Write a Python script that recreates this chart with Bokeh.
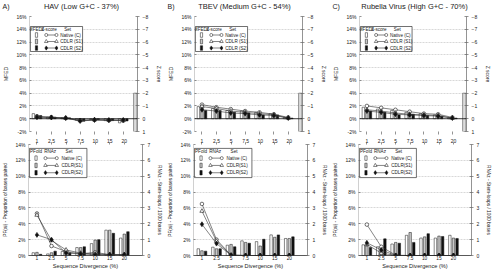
from bokeh.plotting import figure
from bokeh.layouts import row, column
from bokeh.models import (Range1d, LinearAxis, FixedTicker, Span, Grid,
                          PrintfTickFormatter)
from bokeh.embed import file_html
from bokeh.resources import INLINE
from bokeh.core.properties import value

# ---------------------------------------------------------------- data
divergence = ["1", "2.5", "5", "7.5", "10", "15", "20"]
set_names_top = ["Native (C)", "CDLR (S1)", "CDLR (S2)"]
set_names_bottom = ["Native (C)", "CDLR(S1)", "CDLR(S2)"]
panel_letters = ["A)", "B)", "C)"]
panel_titles = ["HAV (Low G+C - 37%)", "TBEV (Medium G+C - 54%)",
                "Rubella Virus (High G+C - 70%)"]
x_title = "Sequence Divergence (%)"

# MFED (%) and Z-score per set
hav_mfed_c = [0.8, 0.25, 0.15, -0.25, -0.15, -0.3, -0.65]
hav_mfed_s1 = [0.6, 0.3, 0.1, -0.35, -0.2, -0.35, -0.5]
hav_mfed_s2 = [0.5, 0.25, 0.15, -0.4, -0.15, -0.3, -0.35]
hav_z_c = [-0.18, -0.12, -0.05, 0.12, 0.08, 0.12, 0.15]
hav_z_s1 = [-0.15, -0.1, -0.05, 0.15, 0.08, 0.1, 0.12]
hav_z_s2 = [-0.12, -0.1, -0.05, 0.18, 0.1, 0.12, 0.1]

tbev_mfed_c = [1.9, 1.6, 1.3, 1.2, 1.0, 0.8, 0.2]
tbev_mfed_s1 = [1.7, 1.5, 1.2, 1.0, 0.8, 0.7, 0.15]
tbev_mfed_s2 = [1.3, 1.3, 1.0, 0.9, 0.6, 0.6, 0.1]
tbev_z_c = [-1.1, -0.9, -0.75, -0.6, -0.5, -0.35, -0.1]
tbev_z_s1 = [-0.95, -0.8, -0.6, -0.5, -0.4, -0.3, -0.05]
tbev_z_s2 = [-0.7, -0.6, -0.45, -0.4, -0.3, -0.25, -0.05]

rub_mfed_c = [1.8, 1.5, 1.3, 1.0, 0.8, 0.6, 0.15]
rub_mfed_s1 = [1.5, 1.2, 1.0, 0.8, 0.6, 0.5, 0.1]
rub_mfed_s2 = [1.2, 1.0, 0.6, 0.7, 0.5, 0.4, 0.1]
rub_z_c = [-1.0, -0.85, -0.7, -0.55, -0.4, -0.35, -0.1]
rub_z_s1 = [-0.7, -0.6, -0.45, -0.35, -0.3, -0.25, -0.05]
rub_z_s2 = [-0.6, -0.5, -0.35, -0.3, -0.25, -0.2, -0.05]

# PFold proportion of bases paired (%) and RNAz stem-loops / 1000 bases
hav_pf_c = [0.35, 0.2, 0.5, 1.0, 1.5, 3.2, 2.2]
hav_pf_s1 = [0.4, 0.35, 0.7, 1.0, 1.95, 3.2, 2.7]
hav_pf_s2 = [0.15, 0.55, 0.35, 1.1, 2.0, 2.8, 3.0]
hav_rz_c = [2.65, 0.6, 0.25, 0.1, 0.2, 0.05, 0.05]
hav_rz_s1 = [2.55, 0.95, 0.35, 0.15, 0.1, 0.05, 0.05]
hav_rz_s2 = [1.3, 1.0, 0.15, 0.1, 0.05, 0.05, 0.05]

tbev_pf_c = [0.85, 1.05, 1.3, 1.85, 1.75, 2.6, 2.15]
tbev_pf_s1 = [0.6, 0.85, 1.4, 1.65, 1.2, 2.3, 2.15]
tbev_pf_s2 = [0.55, 0.85, 1.1, 1.55, 2.05, 2.6, 2.35]
tbev_rz_c = [3.25, 1.0, 0.02, 0.0, 0.0, 0.0, 0.0]
tbev_rz_s1 = [2.8, 0.9, 0.02, 0.0, 0.0, 0.0, 0.0]
tbev_rz_s2 = [1.97, 0.75, 0.02, 0.0, 0.0, 0.0, 0.0]

rub_pf_c = [1.35, 1.1, 1.45, 2.55, 2.2, 2.2, 2.55]
rub_pf_s1 = [1.2, 0.7, 1.65, 2.9, 2.35, 2.45, 2.2]
rub_pf_s2 = [1.0, 2.1, 1.55, 1.65, 2.75, 2.4, 2.15]
rub_rz_c = [1.95, 0.55, 0.02, 0.0, 0.0, 0.0, 0.0]
rub_rz_s1 = [0.7, 0.15, 0.0, 0.0, 0.0, 0.0, 0.0]
rub_rz_s2 = [0.8, 0.35, 0.0, 0.0, 0.0, 0.0, 0.0]

# ---------------------------------------------------------------- style
FONT = "Liberation Sans"
TEXT = "#222222"
BAR_FILLS = ["white", "#c8c8c8", "#111111"]
BAR_OFFSETS = [-0.25, 0.0, 0.25]
BAR_W = 0.17
MARKERS = [("circle", "white", 3.6), ("triangle", "white", 4.2), ("diamond", "#111111", 5.0)]
idx = list(range(len(divergence)))
COL_WIDTHS = [165, 165, 164]


def style_axis(ax, label_size="5px", title_size="5px"):
    ax.major_label_text_font = FONT
    ax.major_label_text_font_size = label_size
    ax.major_label_text_color = TEXT
    ax.axis_label_text_font = FONT
    ax.axis_label_text_font_size = title_size
    ax.axis_label_text_font_style = "normal"
    ax.axis_label_text_color = TEXT
    ax.minor_tick_line_color = None
    ax.axis_line_color = "#666666"
    ax.major_tick_line_color = "#666666"
    ax.axis_line_width = 0.7
    ax.major_tick_line_width = 0.7


def base_fig(width, height, borders, xr, yr):
    l, r, t, b = borders
    p = figure(width=width, height=height, output_backend="svg", toolbar_location=None,
               title=None, x_range=Range1d(*xr), y_range=Range1d(*yr),
               min_border_left=l, min_border_right=r, min_border_top=t, min_border_bottom=b,
               x_axis_location=None, y_axis_location=None)
    p.grid.visible = False
    p.outline_line_color = None
    p.background_fill_color = "white"
    p.border_fill_color = "white"
    fw, fh = width - l - r, height - t - b
    p.extra_x_ranges["px"] = Range1d(0, fw)
    p.extra_y_ranges["py"] = Range1d(0, fh)
    return p, fw, fh


def text_strip(width, height, items):
    # plain strip holding the panel letter and panel title
    p = figure(width=width, height=height, output_backend="svg", toolbar_location=None,
               title=None, x_range=Range1d(0, width), y_range=Range1d(0, height),
               min_border=0, x_axis_location=None, y_axis_location=None)
    p.grid.visible = False
    p.outline_line_color = None
    for x, y, txt, size, align in items:
        p.text(x=[x], y=[y], text=[txt], text_font=value(FONT), text_font_size=size,
               text_color=TEXT, text_align=align, text_baseline="middle")
    return p


def draw_bars(p, series):
    for k, vals in enumerate(series):
        xs = [i + BAR_OFFSETS[k] for i in idx]
        p.vbar(x=xs, top=vals, bottom=0, width=BAR_W, fill_color=BAR_FILLS[k],
               line_color="#111111", line_width=0.5)


def draw_lines(p, series, range_name):
    for k, vals in enumerate(series):
        marker, fill, size = MARKERS[k]
        p.line(idx, vals, y_range_name=range_name, line_color="#333333", line_width=0.6)
        p.scatter(idx, vals, y_range_name=range_name, marker=marker, size=size,
                  fill_color=fill, line_color="#111111", line_width=0.6)


def legend(p, box, headers, header_x, rows_y, header_y, bar_x, line_x, label_x, names):
    x0, x1, y0, y1 = box
    p.quad(left=[x0], right=[x1], bottom=[y0], top=[y1], fill_color="white",
           line_color="#111111", line_width=0.6, x_range_name="px", y_range_name="py")
    p.text(x=header_x, y=[header_y] * 3, text=headers, text_font=value(FONT),
           text_font_size="4.6px", text_align="center", text_baseline="middle",
           text_color=TEXT, x_range_name="px", y_range_name="py")
    for k, yy in enumerate(rows_y):
        p.quad(left=[bar_x - 1.2], right=[bar_x + 1.2], bottom=[yy - 2.3], top=[yy + 2.3],
               fill_color=BAR_FILLS[k], line_color="#111111", line_width=0.5,
               x_range_name="px", y_range_name="py")
        p.line([line_x[0], line_x[1]], [yy, yy], line_color="#333333", line_width=0.6,
               x_range_name="px", y_range_name="py")
        marker, fill, size = MARKERS[k]
        p.scatter([line_x[0], line_x[1]], [yy, yy], marker=marker, size=size * 0.85,
                  fill_color=fill, line_color="#111111", line_width=0.5,
                  x_range_name="px", y_range_name="py")
    p.text(x=[label_x] * 3, y=rows_y, text=names, text_font=value(FONT),
           text_font_size="4.6px", text_align="left", text_baseline="middle",
           text_color=TEXT, x_range_name="px", y_range_name="py")


def top_panel(width, mfed, zs):
    borders = (26, width - 142, 4, 4)
    p, fw, fh = base_fig(width, 123, borders, (-0.52, 6.99), (-2, 16))
    p.extra_y_ranges["z"] = Range1d(1, -8)
    p.add_layout(Grid(dimension=1, ticker=FixedTicker(ticks=list(range(-2, 17, 2))),
                      grid_line_color="#bdbdbd", grid_line_dash="2 1", grid_line_width=0.6))
    p.add_layout(Span(location=0, dimension="width", line_color="#111111", line_width=0.8))
    left = LinearAxis(ticker=FixedTicker(ticks=list(range(-2, 17, 2))),
                      formatter=PrintfTickFormatter(format="%d%%"), axis_label="MFED",
                      major_tick_out=0, major_label_standoff=3, axis_label_standoff=4)
    style_axis(left)
    left.axis_line_color = "#bbbbbb"
    p.add_layout(left, "left")
    right = LinearAxis(y_range_name="z", ticker=FixedTicker(ticks=list(range(-8, 2))),
                       axis_label="Z score", major_tick_out=2, major_label_standoff=3,
                       axis_label_standoff=5)
    style_axis(right)
    p.add_layout(right, "right")
    bottom = LinearAxis(ticker=FixedTicker(ticks=idx), major_tick_out=3, major_tick_in=0,
                        major_label_standoff=0,
                        major_label_overrides={i: "" for i in idx})
    style_axis(bottom)
    bottom.axis_line_color = None
    p.add_layout(bottom, "below")
    p.quad(left=[fw - 4.2], right=[fw - 0.6], bottom=[-2], top=[4], x_range_name="px",
           fill_color="#dcdcdc", line_color="#555555", line_width=0.6)
    draw_bars(p, mfed)
    draw_lines(p, zs, "z")
    legend(p, (1, 57, fh - 35, fh - 10), ["MFEDs", "Z-score", "Set"], [7.5, 21, 41],
           [fh - 18.5, fh - 25, fh - 31.5], fh - 13.3, 7.5, (18, 29), 33, set_names_top)
    return p


def bottom_panel(width, pf, rz):
    borders = (25, width - 146, 9, 13)
    p, fw, fh = base_fig(width, 136, borders, (-0.58, 7.25), (0, 14))
    p.extra_y_ranges["rnaz"] = Range1d(0, 7)
    p.add_layout(Grid(dimension=1, ticker=FixedTicker(ticks=list(range(2, 15, 2))),
                      grid_line_color="#bdbdbd", grid_line_dash="2 1", grid_line_width=0.6))
    left = LinearAxis(ticker=FixedTicker(ticks=list(range(0, 15, 2))),
                      formatter=PrintfTickFormatter(format="%d%%"),
                      axis_label="PF(ai) - Proportion of bases paired",
                      major_tick_out=0, major_label_standoff=3, axis_label_standoff=4)
    style_axis(left, title_size="4.8px")
    left.axis_line_color = "#bbbbbb"
    p.add_layout(left, "left")
    right = LinearAxis(y_range_name="rnaz", ticker=FixedTicker(ticks=list(range(0, 8))),
                       axis_label="RNAz - Stem-loops / 1000 bases", major_tick_out=2,
                       major_label_standoff=3, axis_label_standoff=4)
    style_axis(right, title_size="4.8px")
    p.add_layout(right, "right")
    labels = {i: divergence[i] for i in idx}
    above = LinearAxis(ticker=FixedTicker(ticks=idx), major_label_overrides=labels,
                       major_tick_out=2, major_tick_in=0, major_label_standoff=0)
    style_axis(above)
    above.axis_line_color = None
    p.add_layout(above, "above")
    below = LinearAxis(ticker=FixedTicker(ticks=idx), major_label_overrides=labels,
                       axis_label=x_title, major_tick_out=0, major_tick_in=0,
                       major_label_standoff=0, axis_label_standoff=0)
    style_axis(below, label_size="4.8px", title_size="5.6px")
    below.axis_line_color = "#111111"
    p.add_layout(below, "below")
    draw_bars(p, pf)
    draw_lines(p, rz, "rnaz")
    legend(p, (1, 62, fh - 34, fh - 4), ["PFold", "RNAz", "Set"], [8, 23, 43],
           [fh - 14, fh - 21.5, fh - 29], fh - 7, 8, (18, 30), 35, set_names_bottom)
    return p


heads = [text_strip(w, 12, [(2, 6, l, "7px", "left"), (cx, 6, t, "7.5px", "center")])
         for w, l, t, cx in zip(COL_WIDTHS, panel_letters, panel_titles, [81, 79, 84])]
tops = [
    top_panel(COL_WIDTHS[0], [hav_mfed_c, hav_mfed_s1, hav_mfed_s2],
              [hav_z_c, hav_z_s1, hav_z_s2]),
    top_panel(COL_WIDTHS[1], [tbev_mfed_c, tbev_mfed_s1, tbev_mfed_s2],
              [tbev_z_c, tbev_z_s1, tbev_z_s2]),
    top_panel(COL_WIDTHS[2], [rub_mfed_c, rub_mfed_s1, rub_mfed_s2],
              [rub_z_c, rub_z_s1, rub_z_s2]),
]
bottoms = [
    bottom_panel(COL_WIDTHS[0], [hav_pf_c, hav_pf_s1, hav_pf_s2],
                 [hav_rz_c, hav_rz_s1, hav_rz_s2]),
    bottom_panel(COL_WIDTHS[1], [tbev_pf_c, tbev_pf_s1, tbev_pf_s2],
                 [tbev_rz_c, tbev_rz_s1, tbev_rz_s2]),
    bottom_panel(COL_WIDTHS[2], [rub_pf_c, rub_pf_s1, rub_pf_s2],
                 [rub_rz_c, rub_rz_s1, rub_rz_s2]),
]

layout = column(row(*heads, spacing=0), row(*tops, spacing=0),
                row(*bottoms, spacing=0), spacing=0)

with open("out.html", "w") as f:
    f.write(file_html(layout, INLINE))
